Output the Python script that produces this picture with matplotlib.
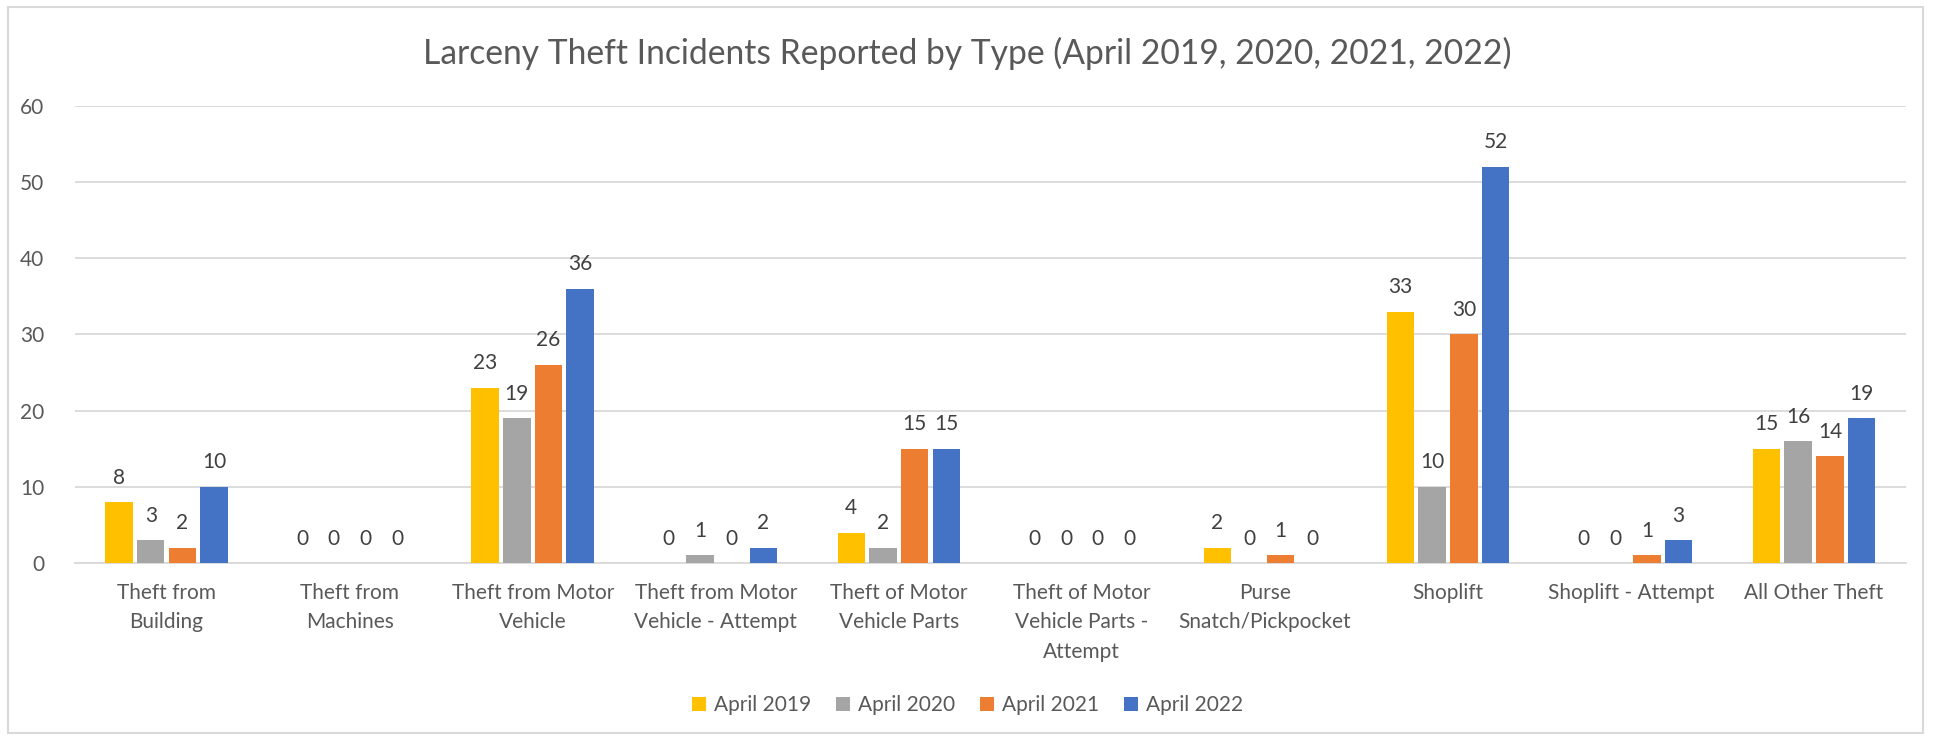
import matplotlib
matplotlib.use("Agg")
import matplotlib.pyplot as plt
import numpy as np
from matplotlib.patches import Rectangle

plt.rcParams["font.family"] = ["Lato", "DejaVu Sans"]

categories = ["Theft from\nBuilding", "Theft from\nMachines", "Theft from Motor\nVehicle",
              "Theft from Motor\nVehicle - Attempt", "Theft of Motor\nVehicle Parts",
              "Theft of Motor\nVehicle Parts -\nAttempt", "Purse\nSnatch/Pickpocket",
              "Shoplift", "Shoplift - Attempt", "All Other Theft"]
series_names = ["April 2019", "April 2020", "April 2021", "April 2022"]
apr2019 = [8, 0, 23, 0, 4, 0, 2, 33, 0, 15]
apr2020 = [3, 0, 19, 1, 2, 0, 0, 10, 0, 16]
apr2021 = [2, 0, 26, 0, 15, 0, 1, 30, 1, 14]
apr2022 = [10, 0, 36, 2, 15, 0, 0, 52, 3, 19]
yticks = [0, 10, 20, 30, 40, 50, 60]

colors = ["#FFC000", "#A5A5A5", "#ED7D31", "#4472C4"]
TXT = "#595959"
GRID = "#D9D9D9"

fig = plt.figure(figsize=(19.35, 7.39), dpi=100)
ax = fig.add_axes([0.0388, 0.238, 0.946, 0.619])

x = np.arange(len(categories))
step = 0.173
width = 0.15
for i, (vals, name, c) in enumerate(zip([apr2019, apr2020, apr2021, apr2022], series_names, colors)):
    pos = x + (i - 1.5) * step
    bars = ax.bar(pos, vals, width, color=c, label=name, zorder=3)
    for b, v in zip(bars, vals):
        ax.text(b.get_x() + b.get_width() / 2, v + 1.9, str(v), ha="center", va="bottom",
                fontsize=15, color="#404040")

ax.set_xlim(-0.5, len(categories) - 0.5)
ax.set_ylim(0, 60)
ax.set_yticks(yticks)
ax.yaxis.grid(True, color=GRID, linewidth=1.3, zorder=0)
for s in ["top", "right", "left"]:
    ax.spines[s].set_visible(False)
ax.spines["bottom"].set_color(GRID)
ax.spines["bottom"].set_linewidth(1.3)
ax.tick_params(axis="both", length=0, labelsize=15, labelcolor=TXT)
ax.tick_params(axis="y", pad=22)
ax.tick_params(axis="x", pad=14)
ax.set_xticks(x)
ax.set_xticklabels(categories, linespacing=1.6)

fig.text(0.5, 0.928, "Larceny Theft Incidents Reported by Type (April 2019, 2020, 2021, 2022)",
         ha="center", va="center", fontsize=24.2, color=TXT)

fig.legend(loc="center", bbox_to_anchor=(0.5, 0.046), ncol=4, frameon=False,
           fontsize=15, handlelength=0.65, handleheight=0.65, handletextpad=0.4,
           columnspacing=1.2, labelcolor=TXT)

fig.patches.append(Rectangle((0.004, 0.008), 0.99, 0.983, transform=fig.transFigure,
                             fill=False, edgecolor=GRID, linewidth=1.5))

fig.savefig("out.png", dpi=100)
